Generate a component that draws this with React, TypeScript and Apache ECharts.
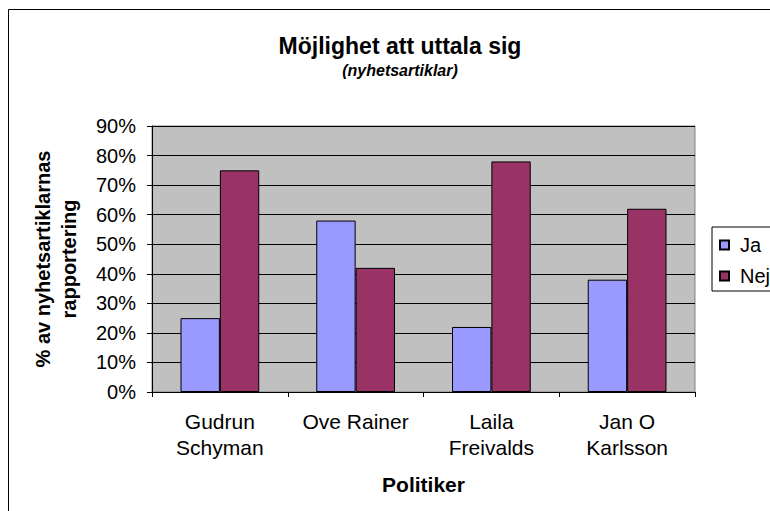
import React, { useEffect, useRef } from "react";
import * as echarts from "echarts";

const categories = ["Gudrun\nSchyman", "Ove Rainer", "Laila\nFreivalds", "Jan O\nKarlsson"];
const jaValues = [25, 58, 22, 38];
const nejValues = [75, 42, 78, 62];
const seriesNames = ["Ja", "Nej"];
const yTicks = { min: 0, max: 90, interval: 10 };

export default function App() {
  const ref = useRef<HTMLDivElement>(null);
  useEffect(() => {
    document.body.style.margin = "0";
    const chart = echarts.init(ref.current!, null, { renderer: "svg" });
    const font = "Arial, 'Liberation Sans', sans-serif";
    chart.setOption({
      animation: false,
      backgroundColor: "#ffffff",
      textStyle: { fontFamily: font, color: "#000" },
      title: {
        text: "Möjlighet att uttala sig",
        subtext: "(nyhetsartiklar)",
        left: 395,
        top: 29,
        textAlign: "center",
        itemGap: 5,
        textStyle: { fontFamily: font, fontSize: 23, fontWeight: "bold", color: "#000" },
        subtextStyle: { fontFamily: font, fontSize: 16, fontWeight: "bold", fontStyle: "italic", color: "#000" },
      },
      legend: {
        orient: "vertical",
        left: 712,
        top: 227,
        itemWidth: 9,
        itemHeight: 9,
        itemGap: 11,
        icon: "rect",
        padding: [8, 40, 5, 7],
        borderColor: "#000",
        borderWidth: 1,
        backgroundColor: "#fff",
        textStyle: { fontFamily: font, fontSize: 20, color: "#000", padding: [0, 0, 0, 6] },
        data: seriesNames,
      },
      grid: {
        left: 152,
        top: 126,
        right: 75,
        bottom: 119,
        show: true,
        backgroundColor: "#C0C0C0",
        borderColor: "#808080",
        borderWidth: 1,
      },
      xAxis: {
        type: "category",
        data: categories,
        name: "Politiker",
        nameLocation: "middle",
        nameGap: 82,
        nameTextStyle: { fontFamily: font, fontSize: 21, fontWeight: "bold", color: "#000" },
        axisLine: { lineStyle: { color: "#000", width: 1 } },
        axisTick: { show: true, length: 5, lineStyle: { color: "#000" } },
        axisLabel: { fontFamily: font, fontSize: 21, color: "#000", margin: 16, lineHeight: 26, interval: 0 },
        splitLine: { show: false },
      },
      yAxis: {
        type: "value",
        min: yTicks.min,
        max: yTicks.max,
        interval: yTicks.interval,
        name: "% av nyhetsartiklarnas\nrapportering",
        nameLocation: "middle",
        nameRotate: 90,
        nameGap: 70,
        nameTextStyle: { fontFamily: font, fontSize: 20, fontWeight: "bold", color: "#000", lineHeight: 26 },
        axisLine: { show: true, lineStyle: { color: "#000", width: 1 } },
        axisTick: { show: true, length: 5, lineStyle: { color: "#000" } },
        axisLabel: { fontFamily: font, fontSize: 20, color: "#000", margin: 16, formatter: "{value}%" },
        splitLine: { show: true, lineStyle: { color: "#000", width: 1 } },
      },
      graphic: [
        {
          type: "rect",
          shape: { x: 8.5, y: 9.5, width: 900, height: 700 },
          style: { fill: "none", stroke: "#000", lineWidth: 1 },
          silent: true,
          z: 100,
        },
      ],
      series: [
        {
          name: seriesNames[0],
          type: "bar",
          data: jaValues,
          barWidth: "29%",
          barGap: "0%",
          itemStyle: { color: "#9999FF", borderColor: "#000", borderWidth: 1 },
        },
        {
          name: seriesNames[1],
          type: "bar",
          data: nejValues,
          barWidth: "29%",
          barGap: "0%",
          itemStyle: { color: "#993366", borderColor: "#000", borderWidth: 1 },
        },
      ],
    });
    return () => chart.dispose();
  }, []);
  return <div ref={ref} style={{ width: 770, height: 511 }} />;
}
